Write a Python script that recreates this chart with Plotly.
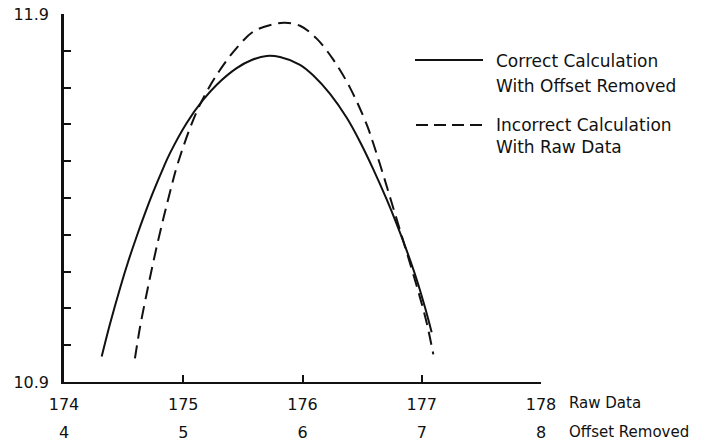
import plotly.graph_objects as go

# ---- data (x in Raw Data units) ----
correct_x = [174.316, 174.386, 174.470, 174.539, 174.610, 174.679, 174.749, 174.833,
             174.889, 175.029, 175.168, 175.281, 175.448, 175.574, 175.700, 175.811,
             175.979, 176.091, 176.231, 176.371, 176.482, 176.594, 176.706, 176.790,
             176.874, 176.958, 177.027, 177.083]
correct_y = [10.969, 11.058, 11.155, 11.228, 11.296, 11.358, 11.417, 11.482,
             11.522, 11.604, 11.667, 11.708, 11.753, 11.775, 11.786, 11.783,
             11.762, 11.733, 11.683, 11.618, 11.553, 11.478, 11.396, 11.329,
             11.257, 11.178, 11.103, 11.035]

raw_x = [174.595, 174.637, 174.693, 174.735, 174.777, 174.833, 174.889, 174.958,
         175.113, 175.239, 175.308, 175.420, 175.587, 175.755, 175.853, 175.979,
         176.119, 176.258, 176.398, 176.538, 176.594, 176.678, 176.748, 176.832,
         176.916, 176.985, 177.042, 177.097]
raw_y = [10.964, 11.048, 11.140, 11.205, 11.267, 11.344, 11.416, 11.498,
         11.635, 11.713, 11.748, 11.797, 11.852, 11.872, 11.876, 11.868,
         11.833, 11.776, 11.700, 11.600, 11.548, 11.462, 11.387, 11.297,
         11.207, 11.130, 11.060, 10.975]

raw_ticks = [174, 175, 176, 177, 178]
offset_labels = ["4", "5", "6", "7", "8"]
y_ticks = [10.9, 11.0, 11.1, 11.2, 11.3, 11.4, 11.5, 11.6, 11.7, 11.8, 11.9]
y_ticktext = ["10.9", "", "", "", "", "", "", "", "", "", "11.9"]

legend_lines = ["Correct Calculation", "With Offset Removed",
                "Incorrect Calculation", "With Raw Data"]

FONT = "DejaVu Sans"
INK = "#111111"

W, H = 720, 445
ML, MR, MT, MB = 64, 179, 14, 20
PW = W - ML - MR
PH = H - MT - MB
def px(x):
    return (x - ML) / PW
def py(y):
    return (H - MB - y) / PH

fig = go.Figure()
fig.add_trace(go.Scatter(x=correct_x, y=correct_y, mode="lines",
                         line=dict(color=INK, width=2, shape="spline", smoothing=1.0),
                         name="Correct", hoverinfo="skip", showlegend=False))
fig.add_trace(go.Scatter(x=raw_x, y=raw_y, mode="lines",
                         line=dict(color=INK, width=2, shape="spline", smoothing=1.0,
                                   dash="13px,7px"),
                         name="Incorrect", hoverinfo="skip", showlegend=False))
# invisible trace for second x axis
fig.add_trace(go.Scatter(x=[raw_ticks[0], raw_ticks[-1]], y=[10.9, 10.9], xaxis="x2",
                         mode="lines", line=dict(width=0), hoverinfo="skip",
                         showlegend=False))

fig.update_layout(
    width=W, height=H,
    margin=dict(l=ML, r=MR, t=MT, b=MB, autoexpand=False),
    paper_bgcolor="white", plot_bgcolor="white",
    font=dict(family=FONT, size=16, color=INK),
    xaxis=dict(range=[174, 178], tickvals=raw_ticks, ticktext=[str(t) for t in raw_ticks],
               ticks="inside", ticklen=7, tickwidth=2, tickcolor=INK,
               showline=True, linecolor=INK, linewidth=2, showgrid=False,
               zeroline=False, anchor="y", ticklabelstandoff=7, automargin=False),
    xaxis2=dict(range=[174, 178], overlaying="x", anchor="free", position=py(411),
                side="bottom", tickvals=raw_ticks, ticktext=offset_labels,
                ticks="", showline=False, showgrid=False, zeroline=False,
                ticklabelstandoff=10, automargin=False),
    yaxis=dict(range=[10.9, 11.9], domain=[py(382), 1], tickvals=y_ticks,
               ticktext=y_ticktext, ticks="inside", ticklen=7, tickwidth=2,
               tickcolor=INK, showline=True, linecolor=INK, linewidth=2.5,
               showgrid=False, zeroline=False, ticklabelstandoff=9, automargin=False),
    showlegend=False,
)

# axis captions
fig.add_annotation(text="Raw Data", xref="paper", yref="paper", x=px(567), y=py(403),
                   xanchor="left", yanchor="middle", showarrow=False,
                   font=dict(size=15, family=FONT, color=INK))
fig.add_annotation(text="Offset Removed", xref="paper", yref="paper", x=px(567), y=py(432),
                   xanchor="left", yanchor="middle", showarrow=False,
                   font=dict(size=15, family=FONT, color=INK))

# legend
fig.add_shape(type="line", xref="paper", yref="paper", x0=px(415), x1=px(483),
              y0=py(60), y1=py(60), line=dict(color=INK, width=2))
fig.add_shape(type="line", xref="paper", yref="paper", x0=px(416), x1=px(482),
              y0=py(125), y1=py(125), line=dict(color=INK, width=2, dash="12px,6px"))
for txt, yy in zip(legend_lines, [61, 86, 125, 147]):
    fig.add_annotation(text=txt, xref="paper", yref="paper", x=px(494), y=py(yy),
                       xanchor="left", yanchor="middle", showarrow=False,
                       font=dict(size=17, family=FONT, color=INK))

fig.write_html("out.html", config={"displayModeBar": False},
               post_script="document.body.style.margin='0';document.body.style.padding='0';")
